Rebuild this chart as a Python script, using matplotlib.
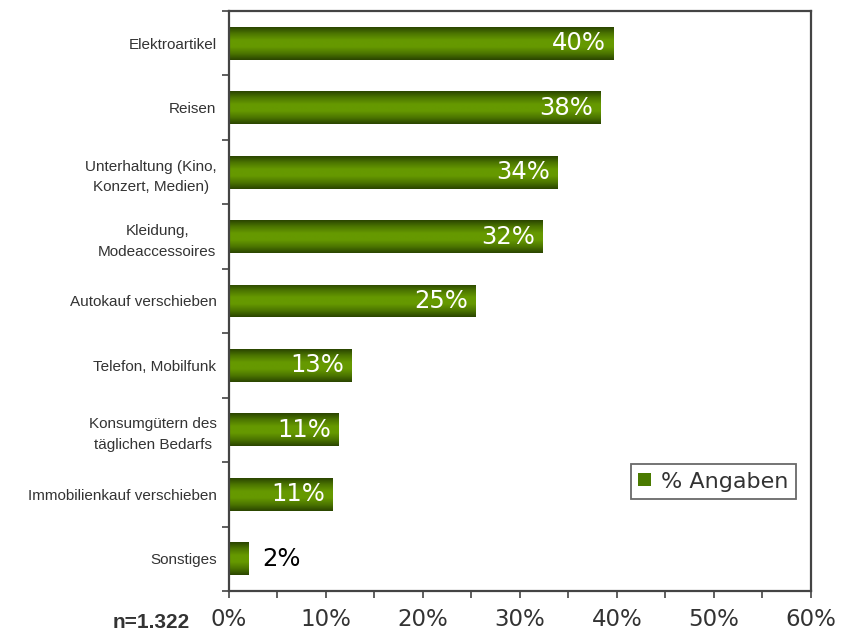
import numpy as np
import matplotlib
matplotlib.use("Agg")
import matplotlib.pyplot as plt
from matplotlib.colors import LinearSegmentedColormap
from matplotlib.ticker import MultipleLocator, FuncFormatter
from matplotlib.patches import Patch

categories = ["Elektroartikel", "Reisen", "Unterhaltung (Kino,\nKonzert, Medien)",
              "Kleidung,\nModeaccessoires", "Autokauf verschieben", "Telefon, Mobilfunk",
              "Konsumgütern des\ntäglichen Bedarfs", "Immobilienkauf verschieben", "Sonstiges"]
values = [39.6, 38.3, 33.9, 32.3, 25.4, 12.6, 11.3, 10.7, 2.0]
value_labels = ["40%", "38%", "34%", "32%", "25%", "13%", "11%", "11%", "2%"]
series_name = "% Angaben"
sample_note = "n=1.322"

fig = plt.figure(figsize=(8.49, 6.35), dpi=100)
ax = fig.add_axes([229/849, 1-591/635, (811-229)/849, (591-11)/635])

cmap = LinearSegmentedColormap.from_list("g", ["#2a4400", "#4c7600", "#669900", "#669900", "#4c7600", "#2a4400"])
grad = np.linspace(0, 1, 256).reshape(-1, 1)

y = np.arange(len(categories))
bars = ax.barh(y, values, height=0.51, color="#5a8a00", edgecolor="none")
for p in bars.patches:
    x0, y0 = p.get_x(), p.get_y()
    w, h = p.get_width(), p.get_height()
    im = ax.imshow(grad, aspect="auto", cmap=cmap, extent=(x0, x0 + w, y0, y0 + h),
                   origin="lower", zorder=2, interpolation="bilinear")
    im.set_clip_path(p)

for i, (v, lab) in enumerate(zip(values, value_labels)):
    if v > 5:
        ax.text(v - 0.75, i, lab, ha="right", va="center", color="white",
                fontsize=17.5, family="DejaVu Sans", zorder=3)
    else:
        ax.text(v + 1.4, i, lab, ha="left", va="center", color="black",
                fontsize=17.5, family="DejaVu Sans", zorder=3)

ax.set_xlim(0, 60)
ax.set_ylim(len(categories) - 0.5, -0.5)
ax.xaxis.set_major_locator(MultipleLocator(10))
ax.xaxis.set_minor_locator(MultipleLocator(5))
ax.xaxis.set_major_formatter(FuncFormatter(lambda v, p: f"{v:.0f}%"))
ax.set_yticks(y)
ax.set_yticklabels(categories, family="Liberation Sans", fontsize=11, color="#333333",
                   ha="right", multialignment="center", linespacing=1.6)
ax.set_yticks(np.arange(len(categories) + 1) - 0.5, minor=True)
ax.tick_params(axis="y", which="major", length=0, pad=9)
ax.tick_params(axis="y", which="minor", length=5, width=1.2, color="#444444", direction="out")
ax.tick_params(axis="x", which="both", length=5, width=1.2, color="#444444", direction="out")
ax.tick_params(axis="x", which="major", labelsize=16.5, labelcolor="#333333", pad=7)
for lbl in ax.get_xticklabels():
    lbl.set_family("DejaVu Sans")

for s in ax.spines.values():
    s.set_color("#444444")
    s.set_linewidth(1.6)

leg_handle = Patch(facecolor="#4a7a00", edgecolor="none")
leg = ax.legend([leg_handle], [series_name], loc="lower right", bbox_to_anchor=(0.974, 0.158),
                prop={"family": "DejaVu Sans", "size": 16}, frameon=True, fancybox=False,
                handlelength=0.55, handleheight=0.55, handletextpad=0.45, borderpad=0.35,
                borderaxespad=0)
leg.get_frame().set_edgecolor("#444444")
leg.get_frame().set_linewidth(1.3)
for t in leg.get_texts():
    t.set_color("#333333")

fig.text(190/849, 1-623/635, sample_note, ha="right", va="center", fontsize=15,
         fontweight="bold", family="Liberation Sans", color="#333333")

fig.savefig("out.png", dpi=100)
